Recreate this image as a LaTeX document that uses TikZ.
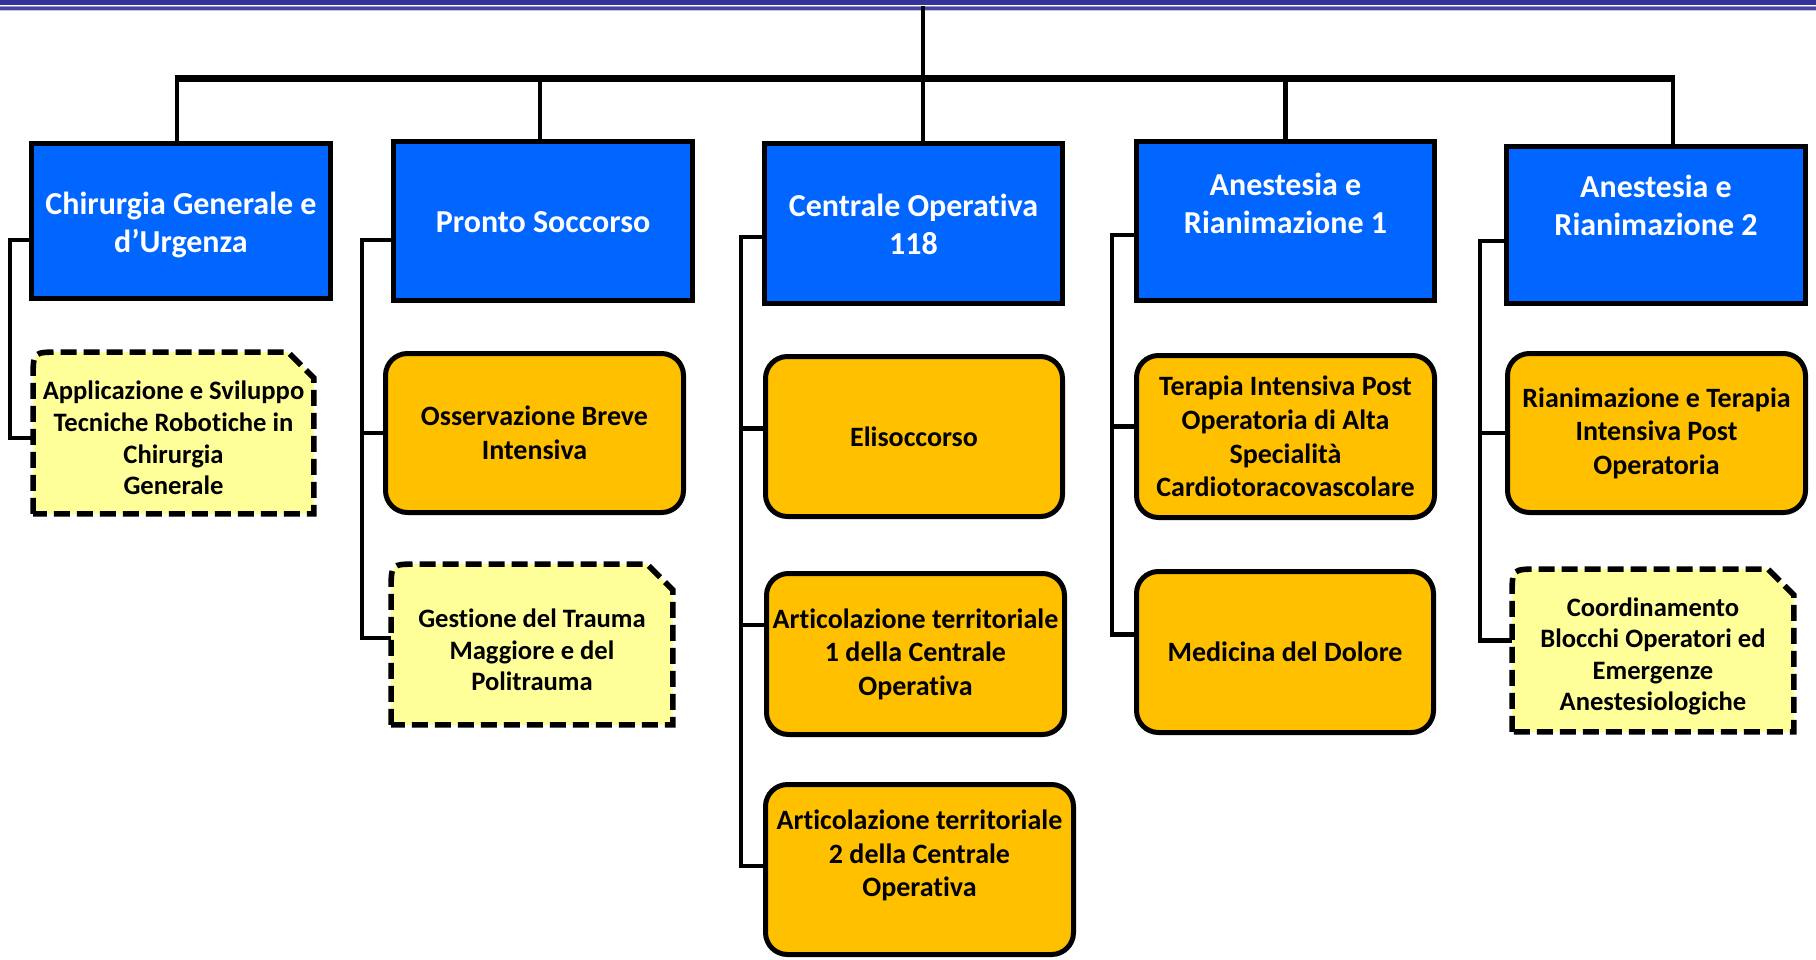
\documentclass[tikz,border=0pt]{standalone}
\usepackage{fontspec}
\setmainfont{Carlito}[Ligatures=NoCommon, RawFeature={-liga;-clig;-calt;-dlig}]
\usetikzlibrary{backgrounds}
\definecolor{bandblue}{HTML}{333399}
\definecolor{bandlight}{HTML}{9999CC}
\definecolor{boxblue}{HTML}{0066FF}
\definecolor{boxorange}{HTML}{FFC000}
\definecolor{boxyellow}{HTML}{FFFF99}
\tikzset{
 conn/.style={line width=2.4pt, draw=black},
 busline/.style={line width=3.5pt, draw=black},
 bluebox/.style={draw=black, line width=2.5pt, fill=boxblue, inner sep=0pt},
 orangebox/.style={draw=black, line width=2.5pt, fill=boxorange, rounded corners=11pt, inner sep=0pt},
 dashframe/.style={draw=black, line width=2.8pt, fill=boxyellow, dash pattern=on 8pt off 3.5pt},
 bluetext/.style={text=white, font=\fontsize{16}{19}\selectfont\bfseries, align=center, inner sep=0pt},
 ortext/.style={text=black, font=\fontsize{14}{16.8}\selectfont\bfseries, align=center},
 dtext/.style={text=black, font=\fontsize{13.3}{15.8}\selectfont\bfseries, align=center, inner sep=0pt},
 frame/.style={draw=none, inner sep=0pt}
}
\newcommand\snipround[1]{%
  \draw[dashframe] (#1.south west) -- ([yshift=-13pt]#1.north west)
    .. controls (#1.north west) .. ([xshift=13pt]#1.north west)
    -- ([xshift=-13pt]#1.north east) -- ([yshift=-13pt]#1.north east)
    -- (#1.south east) -- cycle;}
\begin{document}
\begin{tikzpicture}[x=0.5pt,y=-0.5pt]
\useasboundingbox (0,0) rectangle (1816,959);
% top band
\fill[bandblue] (0,0) rectangle (1816,5);
\fill[bandlight] (0,6) rectangle (1816,7);
\fill[bandblue!90] (0,7) rectangle (1816,10);
\fill[bandlight!60] (0,10) rectangle (1816,11);

% blue boxes
\node[bluebox, minimum width=149.5pt, minimum height=77.5pt] (b1) at (181,221) {};
\node[bluebox, minimum width=149.5pt, minimum height=79.5pt] (b2) at (543,221) {};
\node[bluebox, minimum width=149pt, minimum height=80pt] (b3) at (913.5,223.5) {};
\node[bluebox, minimum width=149pt, minimum height=79.5pt] (b4) at (1285.5,221) {};
\node[bluebox, minimum width=149.5pt, minimum height=78.5pt] (b5) at (1656,225) {};
\node[bluetext] (b1t) at ([yshift=-1.75pt]b1.center) {Chirurgia Generale e\\d’Urgenza};
\node[bluetext] (b2t) at ([yshift=-0.5pt]b2.center) {Pronto Soccorso};
\node[bluetext] (b3t) at ([yshift=-0.5pt]b3.center) {Centrale Operativa\\118};
\node[bluetext] (b4t) at ([yshift=9pt]b4.center) {Anestesia e\\Rianimazione 1};
\node[bluetext] (b5t) at ([yshift=9.75pt]b5.center) {Anestesia e\\Rianimazione 2};

% orange boxes
\node[orangebox, ortext, minimum width=149pt, minimum height=79.5pt] (o2a) at (534.5,433) {Osservazione Breve\\Intensiva};
\node[orangebox, ortext, minimum width=148.5pt, minimum height=80pt] (o3a) at (914,436.5) {Elisoccorso};
\node[orangebox, ortext, minimum width=149pt, minimum height=80.5pt] (o3b) at (915.5,654) {Articolazione territoriale\\1 della Centrale\\Operativa};
\node[orangebox, minimum width=154pt, minimum height=85pt] (o3c) at (919.5,869.5) {};
\node[ortext, inner sep=0pt] (o3ct) at ([yshift=7pt]o3c.center) {Articolazione territoriale\\2 della Centrale\\Operativa};
\node[orangebox, ortext, minimum width=149pt, minimum height=81pt] (o4a) at (1285.5,436.5) {Terapia Intensiva Post\\Operatoria di Alta\\Specialità\\Cardiotoracovascolare};
\node[orangebox, ortext, minimum width=148.5pt, minimum height=80.5pt] (o4b) at (1285,652) {Medicina del Dolore};
\node[orangebox, ortext, minimum width=149pt, minimum height=79.5pt] (o5a) at (1656.5,433) {Rianimazione e Terapia\\Intensiva Post\\Operatoria};

% dashed boxes
\node[frame, minimum width=140pt, minimum height=80.5pt] (d1) at (173.5,433) {};
\node[frame, minimum width=140.5pt, minimum height=80pt] (d2) at (532,644.5) {};
\node[frame, minimum width=140.5pt, minimum height=81pt] (d5) at (1653,650.5) {};
\begin{scope}[on background layer]
\snipround{d1}
\snipround{d2}
\snipround{d5}
\end{scope}
\node[dtext] (d1t) at ([yshift=-2.5pt]d1.center) {Applicazione e Sviluppo\\Tecniche Robotiche in\\Chirurgia\\Generale};
\node[dtext] (d2t) at ([yshift=-2.75pt]d2.center) {Gestione del Trauma\\Maggiore e del\\Politrauma};
\node[dtext] (d5t) at ([yshift=-3pt]d5.center) {Coordinamento\\Blocchi Operatori ed\\Emergenze\\Anestesiologiche};

% top connectors
\coordinate (top) at (923,6);
\coordinate (busL) at (177,78);
\coordinate (busR) at (1673,78);
\draw[busline] ([xshift=-1.2pt]busL) -- ([xshift=1.2pt]busR);
\draw[conn] (top) -- (top |- busL);
\draw[conn] ([xshift=-2pt]b1.north) -- ([xshift=-2pt]b1.north |- busL);
\draw[conn] ([xshift=-1.5pt]b2.north) -- ([xshift=-1.5pt]b2.north |- busL);
\draw[conn] ([xshift=4.75pt]b3.north) -- ([xshift=4.75pt]b3.north |- busL);
\draw[conn] (b4.north) -- (b4.north |- busL);
\draw[conn] ([xshift=8.5pt]b5.north) -- ([xshift=8.5pt]b5.north |- busL);

% column 1
\coordinate (v1) at (10,240);
\draw[conn] ([yshift=-9.5pt]b1.west) -- (v1) |- ([yshift=-2.5pt]d1.west);
% column 2
\coordinate (v2) at (362,240);
\draw[conn] ([yshift=-9.5pt]b2.west) -- (v2) |- ([yshift=3.25pt]d2.west);
\draw[conn] (o2a.west) -- (o2a.west -| v2);
% column 3
\coordinate (v3) at (741,237);
\draw[conn] ([yshift=-6.75pt]b3.west) -- (v3) |- ([yshift=1.75pt]o3c.west);
\draw[conn] ([yshift=4pt]o3a.west) -- ([yshift=4pt]o3a.west -| v3);
\draw[conn] ([yshift=14.5pt]o3b.west) -- ([yshift=14.5pt]o3b.west -| v3);
% column 4
\coordinate (v4) at (1112,235);
\draw[conn] ([yshift=-7pt]b4.west) -- (v4) |- ([yshift=8.7pt]o4b.west);
\draw[conn] ([yshift=5pt]o4a.west) -- ([yshift=5pt]o4a.west -| v4);
% column 5
\coordinate (v5) at (1480,241);
\draw[conn] ([yshift=-8pt]b5.west) -- (v5) |- ([yshift=5pt]d5.west);
\draw[conn] (o5a.west) -- (o5a.west -| v5);
\end{tikzpicture}
\end{document}
